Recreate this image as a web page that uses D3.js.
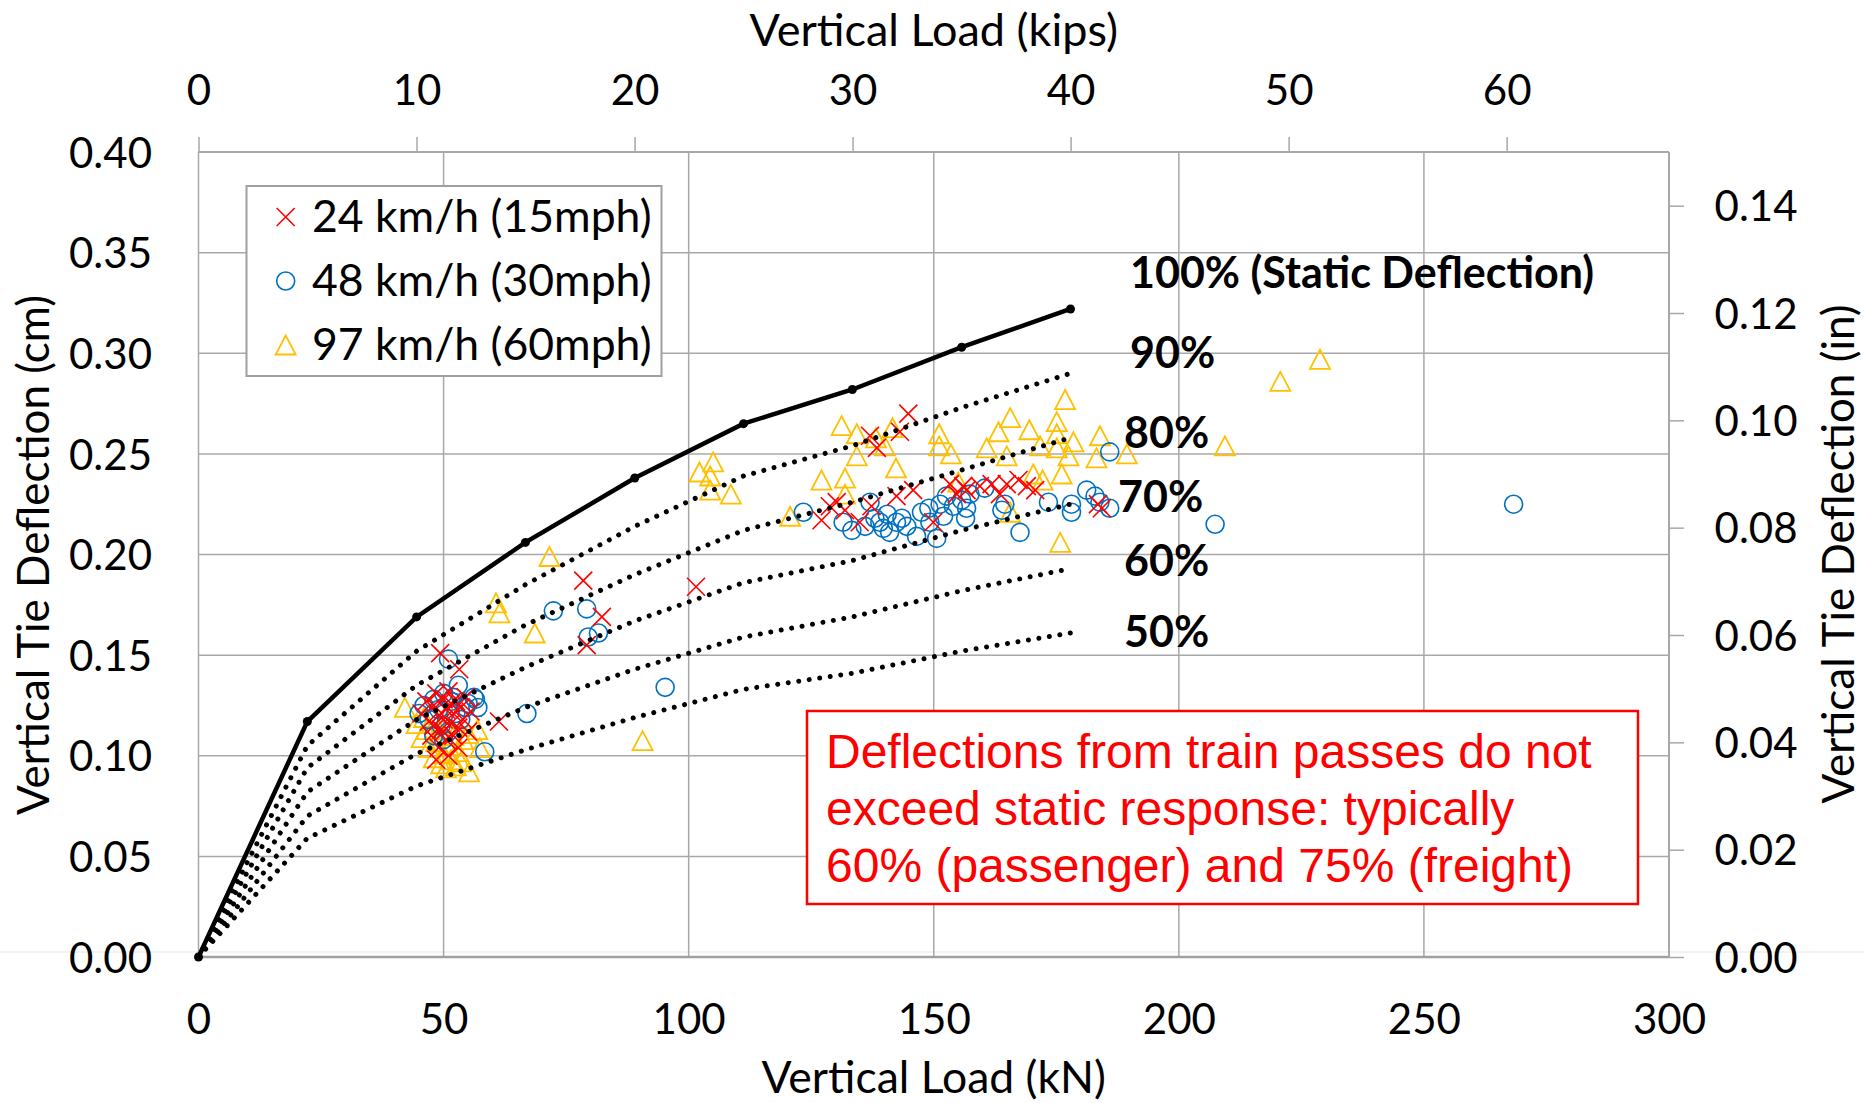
<!DOCTYPE html>
<html><head><meta charset="utf-8">
<script src="https://cdn.jsdelivr.net/npm/d3@7"></script>
<style>body{margin:0;background:#fff} svg{display:block}</style>
</head><body><svg id="c" width="1864" height="1103"></svg>
<script>
// ---------- DATA ----------
const xTicksKN = [0, 50, 100, 150, 200, 250, 300];
const xTicksKips = [0, 10, 20, 30, 40, 50, 60];
const yTicksCm = [0, 0.05, 0.10, 0.15, 0.20, 0.25, 0.30, 0.35, 0.40];
const yTicksIn = [0, 0.02, 0.04, 0.06, 0.08, 0.10, 0.12, 0.14];

// static deflection curve (load in kN: 0..40 kips)
const curveLoad = [0, 22.2, 44.5, 66.7, 89.0, 111.2, 133.4, 155.7, 177.9];
const defl100 = [0, 0.117, 0.169, 0.206, 0.238, 0.265, 0.282, 0.303, 0.322];
const defl90  = [0, 0.105, 0.152, 0.185, 0.214, 0.239, 0.254, 0.273, 0.290];
const defl80  = [0, 0.094, 0.135, 0.165, 0.190, 0.212, 0.226, 0.242, 0.258];
const defl70  = [0, 0.082, 0.118, 0.144, 0.167, 0.186, 0.197, 0.212, 0.225];
const defl60  = [0, 0.070, 0.101, 0.124, 0.143, 0.159, 0.169, 0.182, 0.193];
const defl50  = [0, 0.059, 0.085, 0.103, 0.119, 0.133, 0.141, 0.152, 0.161];
const curveLabels = ["100% (Static Deflection)", "90%", "80%", "70%", "60%", "50%"];

// 24 km/h (15 mph)
const load24 = [45.5,46.5,47,47.5,48,48,48.5,49,49,49.5,50,50,50.5,50.5,51,51,51.5,52,52,52.5,53,53,53.5,54,54.5,55,55.5,48.5,50,51.5,
  49.3,53.2,61.3,78.5,82.3,79.2,101.5,
  127.1,128.8,130.2,131.9,134.9,137.3,142.4,145.8,149.9,153.3,154.7,156.0,156.7,
  137.0,138.4,143.1,144.8,
  159.4,161.8,163.5,164.9,167.3,169.0,170.7,183.5,184.3];
const defl24 = [0.121,0.127,0.117,0.110,0.125,0.115,0.131,0.120,0.104,0.113,0.128,0.118,0.108,0.123,0.100,0.132,0.116,0.121,0.110,0.127,0.114,0.104,0.124,0.118,0.129,0.112,0.122,0.098,0.112,0.126,
  0.151,0.143,0.117,0.187,0.169,0.155,0.184,
  0.217,0.224,0.226,0.222,0.216,0.224,0.229,0.232,0.216,0.235,0.230,0.234,0.232,
  0.259,0.253,0.261,0.270,
  0.234,0.235,0.230,0.235,0.237,0.234,0.232,0.225,0.223];

// 48 km/h (30 mph)
const load48 = [45,46,47,48,49,49.5,50,51,51.5,52,52.5,53,53.5,54.5,55,56.5,57,50,48,
  51.0,56.2,58.4,67.0,72.4,79.2,79.5,81.6,95.2,
  123.4,131.5,133.3,136.0,137.0,138.0,139.0,139.7,140.5,141.0,142.4,143.5,144.5,146.5,147.5,149.0,149.2,150.6,151.3,152.0,152.6,154.0,155.7,156.5,156.7,157.4,160.4,163.9,164.5,167.6,173.4,178.1,178.1,181.2,182.9,183.9,185.9,185.9,207.4,268.3];
const defl48 = [0.121,0.125,0.118,0.128,0.123,0.115,0.131,0.112,0.127,0.129,0.121,0.135,0.118,0.124,0.126,0.128,0.124,0.108,0.110,
  0.148,0.129,0.102,0.121,0.172,0.173,0.159,0.161,0.134,
  0.221,0.216,0.212,0.214,0.226,0.218,0.216,0.213,0.220,0.211,0.216,0.218,0.214,0.209,0.221,0.223,0.216,0.208,0.225,0.219,0.229,0.224,0.227,0.218,0.223,0.230,0.233,0.222,0.225,0.211,0.226,0.225,0.221,0.232,0.229,0.226,0.223,0.251,0.215,0.225];

// 97 km/h (60 mph)
const load97 = [42.1,44.5,45.5,46.5,47,48,48.5,49,49.5,50,50.5,51,51.5,52,52.5,53,53.5,54,55,55.2,56.9,57.4,46,50.5,
  60.7,61.4,68.6,71.6,90.6,
  102.2,105.0,104.4,104.4,108.6,
  120.7,127.1,131.9,131.9,
  131.2,134.3,138.2,140.0,141.6,134.3,142.3,
  151.1,151.1,153.5,155.0,
  160.8,163.2,164.9,165.6,165.6,169.5,170.3,171.7,172.2,175.1,175.1,175.1,175.8,176.1,176.8,177.5,178.5,183.2,183.9,189.4,
  209.4,220.7,228.8];
const defl97 = [0.124,0.116,0.109,0.113,0.104,0.099,0.107,0.113,0.096,0.101,0.094,0.105,0.098,0.110,0.095,0.102,0.097,0.108,0.111,0.092,0.113,0.104,0.119,0.116,
  0.176,0.171,0.161,0.199,0.1075,
  0.241,0.246,0.239,0.232,0.230,
  0.219,0.237,0.238,0.230,
  0.264,0.260,0.258,0.254,0.263,0.249,0.243,
  0.260,0.254,0.250,0.236,
  0.253,0.261,0.249,0.268,0.221,0.262,0.240,0.254,0.237,0.266,0.260,0.253,0.206,0.240,0.277,0.249,0.256,0.248,0.259,0.250,
  0.254,0.286,0.297];

const legendLabels = ["24 km/h (15mph)", "48 km/h (30mph)", "97 km/h (60mph)"];
const noteLines = ["Deflections from train passes do not", "exceed static response: typically", "60% (passenger) and 75% (freight)"];

// ---------- LAYOUT ----------
const svg = d3.select("#c");
const L = 198.5, R = 1669, T = 152, B = 957;
const x = d3.scaleLinear().domain([0, 300]).range([L, R]);
const xTop = d3.scaleLinear().domain([0, 300 / 4.448]).range([L, R]);
const y = d3.scaleLinear().domain([0, 0.40]).range([B, T]);
const yR = d3.scaleLinear().domain([0, 0.15]).range([B, T]);
const FONT = "Lato, 'Open Sans', sans-serif";
const GRID = "#a8a8a8";

svg.append("rect").attr("width", 1864).attr("height", 1103).attr("fill", "#fff");
svg.append("line").attr("x1", 0).attr("x2", 1864).attr("y1", 952).attr("y2", 952)
  .attr("stroke", "#eeeeee").attr("stroke-width", 1.5);

// gridlines
svg.append("g").selectAll("line").data(xTicksKN.filter(d => d > 0 && d < 300)).join("line")
  .attr("x1", d => x(d)).attr("x2", d => x(d)).attr("y1", T).attr("y2", B)
  .attr("stroke", GRID).attr("stroke-width", 1.5);
svg.append("g").selectAll("line").data(yTicksCm.filter(d => d > 0)).join("line")
  .attr("x1", L).attr("x2", R).attr("y1", d => y(d)).attr("y2", d => y(d))
  .attr("stroke", GRID).attr("stroke-width", 1.5);
// plot frame
svg.append("line").attr("x1", L).attr("x2", L).attr("y1", T).attr("y2", B).attr("stroke", GRID).attr("stroke-width", 1.5);
svg.append("line").attr("x1", R).attr("x2", R).attr("y1", T).attr("y2", B).attr("stroke", GRID).attr("stroke-width", 2);

function styleAxis(g, size) {
  g.select(".domain").remove();
  g.selectAll("text").attr("font-family", FONT).attr("font-size", size).attr("fill", "#000");
  g.selectAll(".tick line").attr("stroke", GRID).attr("stroke-width", 1.5);
}
// bottom axis
const gb = svg.append("g").attr("transform", `translate(0,${B})`)
  .call(d3.axisBottom(x).tickValues(xTicksKN).tickSize(0).tickPadding(47).tickFormat(d3.format("d")));
styleAxis(gb, 42);
svg.append("line").attr("x1", L).attr("x2", R).attr("y1", B).attr("y2", B).attr("stroke", "#a0a0a0").attr("stroke-width", 2.5);
// top axis
const gt = svg.append("g").attr("transform", `translate(0,${T})`)
  .call(d3.axisTop(xTop).tickValues(xTicksKips).tickSize(15).tickPadding(32).tickFormat(d3.format("d")));
styleAxis(gt, 42);
svg.append("line").attr("x1", L).attr("x2", R).attr("y1", T).attr("y2", T).attr("stroke", GRID).attr("stroke-width", 2);
// left axis
const gl = svg.append("g").attr("transform", `translate(${L},0)`)
  .call(d3.axisLeft(y).tickValues(yTicksCm).tickSize(0).tickPadding(46.5).tickFormat(d3.format(".2f")));
styleAxis(gl, 42);
gl.selectAll("text").attr("dy", "0.36em");
// right axis
const gr = svg.append("g").attr("transform", `translate(${R},0)`)
  .call(d3.axisRight(yR).tickValues(yTicksIn).tickSize(15).tickPadding(30.6).tickFormat(d3.format(".2f")));
styleAxis(gr, 42);
gr.selectAll("text").attr("dy", "0.36em");

// axis titles
const title = (txt, tx, ty, rot, fs) => svg.append("text").attr("transform", `translate(${tx},${ty}) rotate(${rot})`)
  .attr("text-anchor", "middle").attr("font-family", FONT).attr("font-size", fs).attr("fill", "#000").text(txt);
title("Vertical Load (kips)", 933.75, 46, 0, 45);
title("Vertical Load (kN)", 933.75, 1093, 0, 44.5);
title("Vertical Tie Deflection (cm)", 49, 555, -90, 44);
title("Vertical Tie Deflection (in)", 1854, 554, -90, 44);

// ---------- SCATTER ----------
const pts = (xs, ys) => xs.map((v, i) => [v, ys[i]]);
const triPath = "M0,-9.5L10,9.5L-10,9.5Z";
const xPath = "M-9,-9L9,9M-9,9L9,-9";
svg.append("g").selectAll("path").data(pts(load97, defl97)).join("path")
  .attr("transform", d => `translate(${x(d[0])},${y(d[1])})`).attr("d", triPath)
  .attr("fill", "none").attr("stroke", "#FFC000").attr("stroke-width", 1.8);
svg.append("g").selectAll("circle").data(pts(load48, defl48)).join("circle")
  .attr("cx", d => x(d[0])).attr("cy", d => y(d[1])).attr("r", 9)
  .attr("fill", "none").attr("stroke", "#0070C0").attr("stroke-width", 1.6);
svg.append("g").selectAll("path").data(pts(load24, defl24)).join("path")
  .attr("transform", d => `translate(${x(d[0])},${y(d[1])})`).attr("d", xPath)
  .attr("fill", "none").attr("stroke", "#FF0000").attr("stroke-width", 1.6);

// ---------- CURVES ----------
const line = d3.line().x(d => x(d[0])).y(d => y(d[1]));
[defl90, defl80, defl70, defl60, defl50].forEach(arr => {
  svg.append("path").datum(pts(curveLoad, arr)).attr("d", line)
    .attr("fill", "none").attr("stroke", "#000").attr("stroke-width", 5)
    .attr("stroke-linecap", "round").attr("stroke-dasharray", "0.01 10.6");
});
svg.append("path").datum(pts(curveLoad, defl100)).attr("d", line)
  .attr("fill", "none").attr("stroke", "#000").attr("stroke-width", 4.5);
svg.append("g").selectAll("circle").data(pts(curveLoad, defl100)).join("circle")
  .attr("cx", d => x(d[0])).attr("cy", d => y(d[1])).attr("r", 4.5).attr("fill", "#000");

// curve labels
const labX = [1130, 1130, 1124, 1118, 1124, 1124];
const labY = [288, 367.5, 447.5, 512, 576, 646.5];
svg.append("g").selectAll("text").data(curveLabels).join("text")
  .attr("x", (d, i) => labX[i]).attr("y", (d, i) => labY[i])
  .attr("font-family", FONT).attr("font-weight", "bold").attr("font-size", 43).attr("fill", "#000").text(d => d);

// ---------- LEGEND ----------
const lg = svg.append("g");
lg.append("rect").attr("x", 246.5).attr("y", 186).attr("width", 415).attr("height", 190)
  .attr("fill", "#fff").attr("stroke", "#a0a0a0").attr("stroke-width", 2);
const rows = [217, 281, 345];
lg.append("path").attr("transform", `translate(285.7,${rows[0]})`).attr("d", xPath).attr("fill", "none").attr("stroke", "#FF0000").attr("stroke-width", 1.6);
lg.append("circle").attr("cx", 285.7).attr("cy", rows[1]).attr("r", 9).attr("fill", "none").attr("stroke", "#0070C0").attr("stroke-width", 1.6);
lg.append("path").attr("transform", `translate(285.7,${rows[2]})`).attr("d", triPath).attr("fill", "none").attr("stroke", "#FFC000").attr("stroke-width", 1.8);
lg.selectAll("text").data(legendLabels).join("text")
  .attr("x", 312).attr("y", (d, i) => rows[i] + 15)
  .attr("font-family", FONT).attr("font-size", 44.5).attr("fill", "#000").text(d => d);

// ---------- NOTE ----------
svg.append("rect").attr("x", 807).attr("y", 711).attr("width", 831).attr("height", 193)
  .attr("fill", "#fff").attr("stroke", "#FF0000").attr("stroke-width", 2.5);
svg.append("g").selectAll("text").data(noteLines).join("text")
  .attr("x", 826).attr("y", (d, i) => 768 + i * 57)
  .attr("font-family", "'Liberation Sans', Arial, sans-serif").attr("font-size", 48).attr("fill", "#FF0000").text(d => d);
</script></body></html>
